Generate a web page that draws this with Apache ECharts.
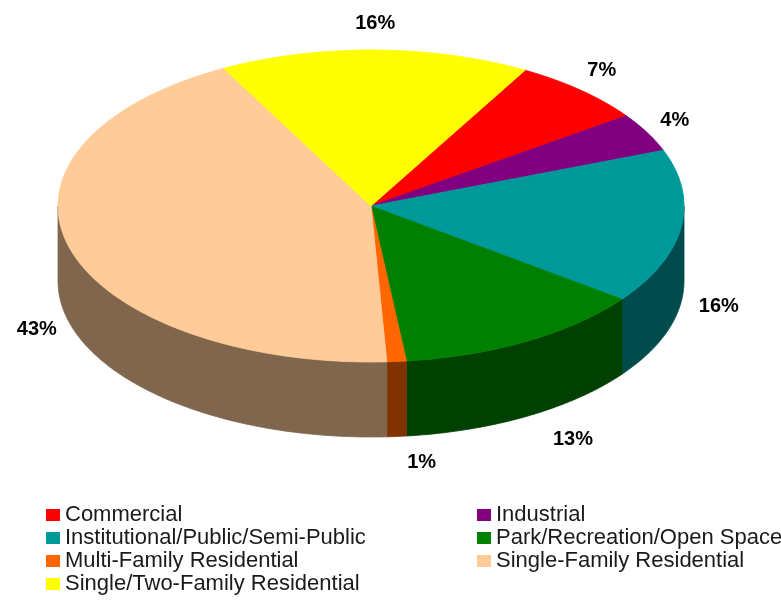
<!DOCTYPE html>
<html>
<head>
<meta charset="utf-8">
<script src="https://cdn.jsdelivr.net/npm/echarts@6/dist/echarts.min.js"></script>
<style>
html,body{margin:0;padding:0;background:#fff;}
#chart{width:781px;height:601px;}
</style>
</head>
<body>
<div id="chart"></div>
<script>
const categories = ['Commercial','Industrial','Institutional/Public/Semi-Public','Park/Recreation/Open Space','Multi-Family Residential','Single-Family Residential','Single/Two-Family Residential'];
const values = [7, 4, 16, 13, 1, 43, 16];
const pctLabels = ['7%', '4%', '16%', '13%', '1%', '43%', '16%'];
const colors = ['#FF0000','#800080','#009999','#008000','#FF6600','#FFCC99','#FFFF00'];
const sideColors = ['#800000','#400040','#004C4C','#004000','#803300','#7F664C','#808000'];
const legendLeft = [categories[0], categories[2], categories[4], categories[6]];
const legendRight = [categories[1], categories[3], categories[5]];

// pie geometry (layout)
const CX = 371, CY = 206, RX = 313, RY = 156, DEPTH = 75, START = 60.5;
const total = values.reduce((a, b) => a + b, 0);
const D2R = Math.PI / 180;

function ptTop(a, dy) {
  return [CX + RX * Math.cos(a * D2R), CY + (dy || 0) - RY * Math.sin(a * D2R)];
}

function sliceAngles(i) {
  let before = 0;
  for (let k = 0; k < i; k++) before += values[k];
  const a0 = START - before / total * 360;
  const a1 = a0 - values[i] / total * 360;
  return [a0, a1];
}

function makeRender(i) {
  return function (params, api) {
    const [a0, a1] = sliceAngles(i);
    const children = [];
    // outer wall (front half only)
    const hi = Math.min(a0, 0), lo = Math.max(a1, -180);
    if (hi > lo) {
      const pts = [];
      const n = Math.max(2, Math.ceil(hi - lo));
      for (let k = 0; k <= n; k++) pts.push(ptTop(hi - (hi - lo) * k / n, 0));
      for (let k = n; k >= 0; k--) pts.push(ptTop(hi - (hi - lo) * k / n, DEPTH));
      children.push({
        type: 'polygon', z2: 1,
        shape: { points: pts },
        style: { fill: sideColors[i], stroke: sideColors[i], lineWidth: 0.8 }
      });
    }
    // top face
    const top = [[CX, CY]];
    const m = Math.max(2, Math.ceil(a0 - a1));
    for (let k = 0; k <= m; k++) top.push(ptTop(a0 - (a0 - a1) * k / m, 0));
    children.push({
      type: 'polygon', z2: 2,
      shape: { points: top },
      style: { fill: colors[i], stroke: colors[i], lineWidth: 0.8 }
    });
    // label
    const mid = (a0 + a1) / 2;
    const s = Math.sin(mid * D2R), c = Math.cos(mid * D2R);
    const baseY = s < 0 ? CY + DEPTH : CY;
    const skew = s < 0 ? -s * (20 + 30 * c) : 0;
    children.push({
      type: 'text', z2: 3,
      x: CX + 1.1 * RX * c + skew,
      y: baseY - 1.17 * RY * s,
      style: {
        text: pctLabels[i],
        fill: '#000',
        fontSize: 20,
        fontWeight: 'bold',
        fontFamily: '"Liberation Sans", Arial, sans-serif',
        align: 'center',
        verticalAlign: 'middle'
      }
    });
    return { type: 'group', children: children };
  };
}

const series = categories.map((name, i) => ({
  type: 'custom',
  name: name,
  coordinateSystem: 'none',
  itemStyle: { color: colors[i] },
  data: [[values[i]]],
  renderItem: makeRender(i),
  silent: true
}));

const legendText = {
  fontSize: 22,
  lineHeight: 23,
  color: '#1a1a1a',
  fontFamily: '"Liberation Sans", Arial, sans-serif'
};

const chart = echarts.init(document.getElementById('chart'), null, { renderer: 'canvas' });
chart.setOption({
  backgroundColor: '#ffffff',
  animation: false,
  legend: [
    {
      data: legendLeft, orient: 'vertical', left: 46, top: 503.5, padding: 0,
      itemGap: 0, itemWidth: 14, itemHeight: 12, icon: 'rect', itemStyle: { borderWidth: 0 },
      selectedMode: false, textStyle: legendText
    },
    {
      data: legendRight, orient: 'vertical', left: 477, top: 503.5, padding: 0,
      itemGap: 0, itemWidth: 14, itemHeight: 12, icon: 'rect', itemStyle: { borderWidth: 0 },
      selectedMode: false, textStyle: legendText
    }
  ],
  series: series
});
</script>
</body>
</html>
